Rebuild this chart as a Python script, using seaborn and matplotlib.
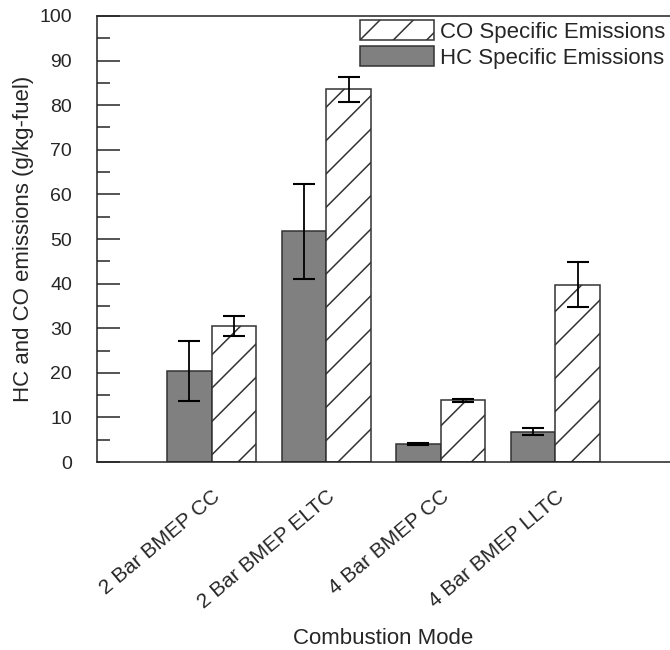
#!/usr/bin/env python3
"""HC and CO specific emissions by combustion mode (grouped bars with error bars)."""

import pandas as pd
import matplotlib
matplotlib.use("Agg")
import matplotlib.pyplot as plt
import seaborn as sns
from matplotlib.ticker import MultipleLocator

# --- data ---
modes = ["2 Bar BMEP CC", "2 Bar BMEP ELTC", "4 Bar BMEP CC", "4 Bar BMEP LLTC"]
hc_mean = [20.4, 51.7, 4.0, 6.8]
hc_err = [6.7, 10.7, 0.2, 0.8]
co_mean = [30.5, 83.6, 13.8, 39.8]
co_err = [2.3, 2.8, 0.4, 5.1]
series = ["HC Specific Emissions", "CO Specific Emissions"]

# rendered at 200 dpi so the hatch spacing can be tuned like the original
DPI = 200

sns.set_style("ticks")
plt.rcParams["font.family"] = ["Liberation Sans", "DejaVu Sans"]
plt.rcParams["hatch.linewidth"] = 0.55
plt.rcParams["hatch.color"] = "black"


def main():
    df = pd.DataFrame({
        "mode": modes * 2,
        "series": [series[0]] * 4 + [series[1]] * 4,
        "value": hc_mean + co_mean,
        "err": hc_err + co_err,
    })

    fig = plt.figure(figsize=(6.7 / 2, 6.5 / 2), dpi=DPI)
    ax = fig.add_axes([0.1448, 0.2892, 0.8552, 0.6862])

    sns.barplot(
        data=df, x="mode", y="value", hue="series",
        order=modes, hue_order=series,
        palette={series[0]: "#808080", series[1]: "white"},
        errorbar=None, width=0.78, saturation=1,
        edgecolor="#333333", linewidth=0.55, ax=ax,
    )

    # hatch the CO bars and add the error bars on each series
    for cont, name in zip(ax.containers, series):
        sub = df[df["series"] == name].set_index("mode").loc[modes]
        xs = [p.get_x() + p.get_width() / 2 for p in cont.patches]
        if name.startswith("CO"):
            for p in cont.patches:
                p.set_hatch("//")
        ax.errorbar(xs, sub["value"], yerr=sub["err"], fmt="none",
                    ecolor="black", elinewidth=0.65, capsize=4.1,
                    capthick=0.75, zorder=5)

    ax.set_xlim(-1, 4)
    ax.set_ylim(0, 100)
    ax.yaxis.set_major_locator(MultipleLocator(10))
    ax.yaxis.set_minor_locator(MultipleLocator(5))
    ax.tick_params(axis="y", which="major", direction="in", length=8.3,
                   width=0.55, pad=9, labelsize=7)
    ax.tick_params(axis="y", which="minor", direction="in", length=4.7,
                   width=0.55)
    ax.tick_params(axis="x", length=0, pad=9, labelsize=7.5)
    plt.setp(ax.get_xticklabels(), rotation=40, ha="right",
             rotation_mode="anchor")

    for side in ["left", "bottom", "top"]:
        ax.spines[side].set_linewidth(0.55)
        ax.spines[side].set_color("#222222")
    ax.spines["right"].set_visible(False)

    ax.set_xlabel("Combustion Mode", fontsize=8, labelpad=5.5)
    ax.set_ylabel("HC and CO emissions (g/kg-fuel)", fontsize=8, labelpad=2)

    # legend: CO listed first, no frame
    handles, labels = ax.get_legend_handles_labels()
    for h in handles:
        if h.get_label().startswith("CO"):
            h.set_hatch("//")
    ax.legend(handles[::-1], labels[::-1], loc="upper right", frameon=False,
              fontsize=8, handlelength=3.3, handleheight=1.0,
              handletextpad=0.3, labelspacing=0.15,
              borderaxespad=0.1, borderpad=0.1)

    fig.savefig("out.png", dpi=DPI, facecolor="white")
    plt.close(fig)


if __name__ == "__main__":
    main()
